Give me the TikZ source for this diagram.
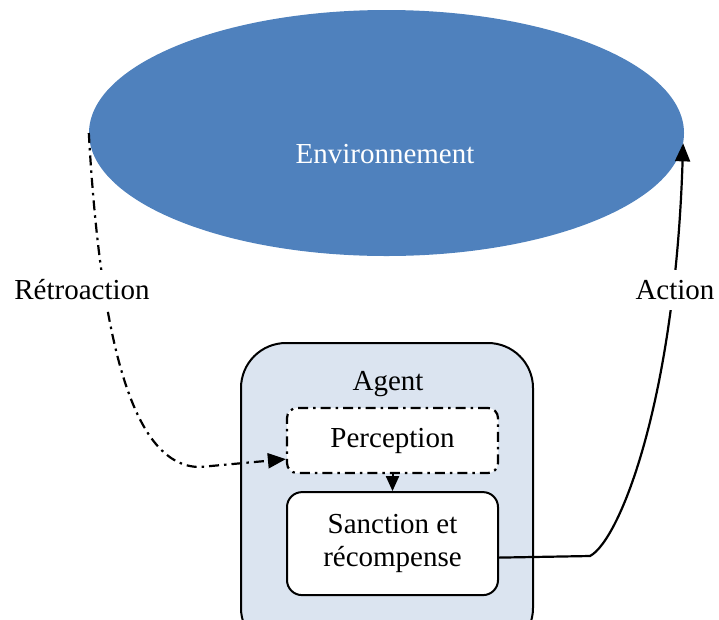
\documentclass[tikz,border=0pt]{standalone}
\usepackage{fontspec}
\setmainfont{Liberation Serif}
\usetikzlibrary{positioning,arrows.meta,shapes.geometric}
\definecolor{envblue}{HTML}{4F81BD}
\definecolor{agentfill}{HTML}{DBE4F0}
\begin{document}
\begin{tikzpicture}[x=1pt,y=-1pt,every node/.style={font=\fontsize{29}{33}\selectfont}]
    \tikzset{box/.style={draw=black,line width=2pt,fill=white,minimum width=211pt,align=center,inner sep=0pt},
      fb/.style={line width=2.2pt,dash pattern=on 10pt off 5pt on 2.5pt off 5pt},
      tip/.style={-{Triangle[length=18pt,width=15pt]}}};
    \useasboundingbox (0,0) rectangle (719,619);
    \node[ellipse,fill=envblue,minimum width=595pt,minimum height=246pt,inner sep=0pt] (env) at (386.5,133) {};
    \node[text=white] (envlbl) at (385,154) {Environnement};
    \node[draw=black,line width=2pt,rounded corners=45pt,fill=agentfill,minimum width=292pt,minimum height=310pt] (agent) at (387,498) {};
    \node (agentlbl) at (388,384) {Agent};
    \node[box,rounded corners=10pt,fb,minimum height=65pt] (perc) at (392.5,440.5) {Perception};
    \node[box,rounded corners=15pt,minimum height=103pt,below=17pt of perc] (sanc) {Sanction et\\récompense};
    \coordinate (bend) at (590,556);
    {
       \draw[line width=2pt,-{Triangle[length=15pt,width=13pt]}] (perc) -- (sanc);
       \draw[fb,tip] (env.west) .. controls (100,330) and (130,467) .. (200,467) -- ([yshift=15pt]perc.south west);
       \draw[line width=2.2pt,tip] ([yshift=-14pt]sanc.east) -- (bend) .. controls (620,540) and (675,400) .. (env.-2);
    }
    \node[fill=white,inner xsep=2pt,inner ysep=10pt] (retro) at (82,290) {Rétroaction};
    \node[fill=white,inner xsep=2pt,inner ysep=10pt] (act) at (675,290) {Action};
\end{tikzpicture}
\end{document}
